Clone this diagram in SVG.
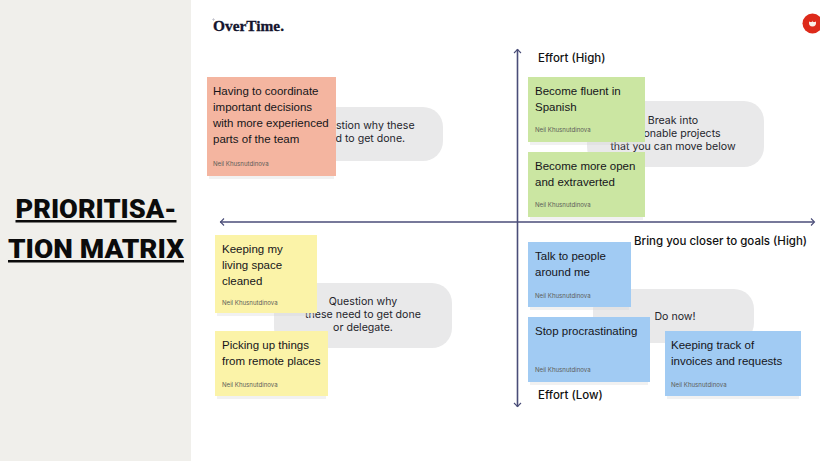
<svg xmlns="http://www.w3.org/2000/svg" width="820" height="461" viewBox="0 0 820 461">
<defs>
<style>
.note{font-family:"Liberation Sans",Arial,sans-serif;font-size:11.5px;fill:#15151a}
.by{font-family:"Inter","Liberation Sans",sans-serif;font-size:6.1px;fill:#5c5c58}
.bub{fill:#e9e9ea}
.bt{font-family:"Inter","Liberation Sans",sans-serif;font-size:10.6px;fill:#25252c;text-anchor:middle}
.ax{font-family:"Inter","Liberation Sans",sans-serif;font-size:11.5px;font-weight:500;fill:#111}
.sh{fill:#d8d8d8;opacity:.35}
.r{fill:#f4b5a0}.g{fill:#cbe6a2}.y{fill:#fbf3a8}.b{fill:#a1cbf3}
.axis{fill:none;stroke:#4a4d78;stroke-width:1.6}
.head{fill:none;stroke:#4a4d78;stroke-width:1.1}
.title{font-family:"Roboto","Liberation Sans",sans-serif;font-weight:900;font-size:25px;fill:#0b0b0b;text-anchor:middle;text-decoration:underline}
</style>
</defs>
<rect width="820" height="461" fill="#fff"/>
<rect id="panel" width="191" height="461" fill="#f0efeb"/>
<g id="title">
<text class="title" x="96" y="218" textLength="161" lengthAdjust="spacingAndGlyphs">PRIORITISA-</text>
<text class="title" x="96" y="258" textLength="176" lengthAdjust="spacingAndGlyphs">TION MATRIX</text>
</g>
<g id="logo">
<path d="M212 19.500h3M213.500 18v3" stroke="#b9b9c4" stroke-width=".6"/>
<text x="213" y="31" font-family="'Liberation Serif','DejaVu Serif',serif" font-weight="700" font-size="15" fill="#14152e" stroke="#14152e" stroke-width=".3" textLength="71" lengthAdjust="spacingAndGlyphs">OverTime.</text>
</g>
<g id="badge">
<circle cx="812.500" cy="23.500" r="10" fill="#dd2a1a"/>
<path d="M809 21.500q3.500 1.500 3.500-1q0 2.500 3.500 1q.5 5-3.500 5t-3.500-5z" fill="#fbeee6"/>
</g>
<g id="connectors">
<path class="axis" d="M517.500 49V407"/>
<path class="axis" d="M220 222H814"/>
<path class="head" d="M514 53L517.500 49.500L521 53M514 403L517.500 406.500L521 403M224 218.500L220.500 222L224 225.500M811 218.500L814.500 222L811 225.500"/>
</g>
<g id="axis-labels">
<text class="ax" x="538" y="62">Effort (High)</text>
<text class="ax" x="538" y="399">Effort (Low)</text>
<text class="ax" x="634" y="245">Bring you closer to goals (High)</text>
</g>
<g id="bubble-top-left">
<rect class="bub" x="290" y="107" width="153" height="54" rx="20"/>
<text class="bt" x="365" y="129">Question why these</text>
<text class="bt" x="361" y="142">need to get done.</text>
</g>
<g id="bubble-top-right">
<rect class="bub" x="587" y="101" width="177" height="66" rx="20"/>
<text class="bt" x="673" y="124">Break into</text>
<text class="bt" x="673" y="137">actionable projects</text>
<text class="bt" x="673" y="150">that you can move below</text>
</g>
<g id="bubble-bottom-left">
<rect class="bub" x="274" y="283" width="178" height="65" rx="20"/>
<text class="bt" x="363" y="305">Question why</text>
<text class="bt" x="363" y="318">these need to get done</text>
<text class="bt" x="363" y="331">or delegate.</text>
</g>
<g id="bubble-bottom-right">
<rect class="bub" x="593" y="289" width="161" height="54" rx="20"/>
<text class="bt" x="675" y="320">Do now!</text>
</g>
<g id="note-coordinate">
<rect class="sh" x="209" y="176" width="125" height="3"/>
<rect class="r" x="207" y="77" width="129" height="99"/>
<text class="note"><tspan x="213" y="95">Having to coordinate</tspan><tspan x="213" y="111">important decisions</tspan><tspan x="213" y="126.500">with more experienced</tspan><tspan x="213" y="142.500">parts of the team</tspan></text>
<text class="by" x="213" y="166">Neil Khusnutdinova</text>
</g>
<g id="note-spanish">
<rect class="sh" x="530" y="142" width="113" height="3"/>
<rect class="g" x="528" y="77" width="117" height="65"/>
<text class="note"><tspan x="535" y="95">Become fluent in</tspan><tspan x="535" y="111">Spanish</tspan></text>
<text class="by" x="535" y="132">Neil Khusnutdinova</text>
</g>
<g id="note-extraverted">
<rect class="sh" x="530" y="217" width="113" height="3"/>
<rect class="g" x="528" y="152" width="117" height="65"/>
<text class="note"><tspan x="535" y="170">Become more open</tspan><tspan x="535" y="185.500">and extraverted</tspan></text>
<text class="by" x="535" y="207">Neil Khusnutdinova</text>
</g>
<g id="note-living-space">
<rect class="sh" x="217" y="313" width="98" height="3"/>
<rect class="y" x="215" y="235" width="102" height="78"/>
<text class="note"><tspan x="222" y="253">Keeping my</tspan><tspan x="222" y="269">living space</tspan><tspan x="222" y="284.500">cleaned</tspan></text>
<text class="by" x="222" y="305">Neil Khusnutdinova</text>
</g>
<g id="note-remote-places">
<rect class="sh" x="217" y="396" width="109" height="3"/>
<rect class="y" x="215" y="331" width="113" height="65"/>
<text class="note"><tspan x="222" y="349">Picking up things</tspan><tspan x="222" y="365">from remote places</tspan></text>
<text class="by" x="222" y="387">Neil Khusnutdinova</text>
</g>
<g id="note-talk">
<rect class="sh" x="530" y="307" width="99" height="3"/>
<rect class="b" x="528" y="242" width="103" height="65"/>
<text class="note"><tspan x="535" y="260">Talk to people</tspan><tspan x="535" y="276">around me</tspan></text>
<text class="by" x="535" y="298">Neil Khusnutdinova</text>
</g>
<g id="note-procrastinating">
<rect class="sh" x="530" y="382" width="118" height="3"/>
<rect class="b" x="528" y="317" width="122" height="65"/>
<text class="note" x="535" y="335">Stop procrastinating</text>
<text class="by" x="535" y="372">Neil Khusnutdinova</text>
</g>
<g id="note-invoices">
<rect class="sh" x="667" y="396" width="132" height="3"/>
<rect class="b" x="665" y="331" width="136" height="65"/>
<text class="note"><tspan x="671" y="349">Keeping track of</tspan><tspan x="671" y="365">invoices and requests</tspan></text>
<text class="by" x="671" y="387">Neil Khusnutdinova</text>
</g>
</svg>
